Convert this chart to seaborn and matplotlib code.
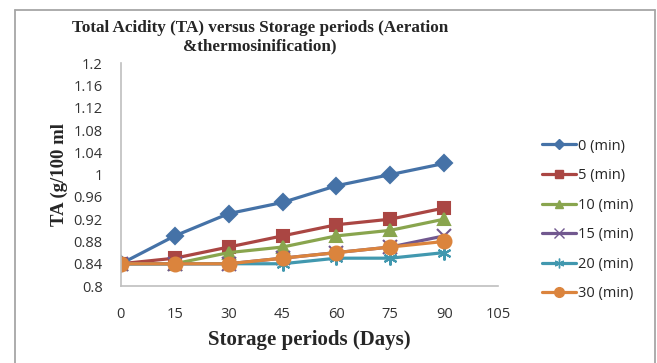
import matplotlib
matplotlib.use("Agg")
import matplotlib.pyplot as plt
import seaborn as sns
import pandas as pd
from matplotlib.lines import Line2D

days = [0, 15, 30, 45, 60, 75, 90]
series_names = ["0 (min)", "5 (min)", "10 (min)", "15 (min)", "20 (min)", "30 (min)"]
ta_0 = [0.84, 0.89, 0.93, 0.95, 0.98, 1.00, 1.02]
ta_5 = [0.84, 0.85, 0.87, 0.89, 0.91, 0.92, 0.94]
ta_10 = [0.84, 0.84, 0.86, 0.87, 0.89, 0.90, 0.92]
ta_15 = [0.84, 0.84, 0.84, 0.85, 0.86, 0.87, 0.89]
ta_20 = [0.84, 0.84, 0.84, 0.84, 0.85, 0.85, 0.86]
ta_30 = [0.84, 0.84, 0.84, 0.85, 0.86, 0.87, 0.88]
x_ticks = [0, 15, 30, 45, 60, 75, 90, 105]
y_ticks = [0.8, 0.84, 0.88, 0.92, 0.96, 1.0, 1.04, 1.08, 1.12, 1.16, 1.2]
y_tick_labels = ["0.8", "0.84", "0.88", "0.92", "0.96", "1", "1.04", "1.08", "1.12", "1.16", "1.2"]

rows = []
for name, vals in zip(series_names, [ta_0, ta_5, ta_10, ta_15, ta_20, ta_30]):
    for d, v in zip(days, vals):
        rows.append({"Days": d, "TA": v, "Treatment": name})
df = pd.DataFrame(rows)

sns.set_theme(style="white")
plt.rcParams["font.family"] = ["Open Sans", "DejaVu Sans"]

colors = ["#4572A7", "#AA4643", "#89A54E", "#71588F", "#4198AF", "#DB843D"]
markers = ["D", "s", "^", "x", (6, 2, 0), "o"]
msizes = [8, 9, 9, 10, 10, 10]

fig = plt.figure(figsize=(6.57, 3.63), dpi=100)
ax = fig.add_axes([0.184, 0.212, 0.574, 0.614])

for name, c, m, ms in zip(series_names, colors, markers, msizes):
    sub = df[df["Treatment"] == name]
    sns.lineplot(data=sub, x="Days", y="TA", color=c, marker=m, markersize=ms,
                 markeredgecolor=c, markerfacecolor=c, markeredgewidth=1.5,
                 linewidth=2.3, ax=ax, legend=False)

ax.set_xlim(0, 105)
ax.set_ylim(0.8, 1.2)
ax.set_xticks(x_ticks)
ax.set_xticklabels([str(t) for t in x_ticks], fontsize=10.5, color="#333333")
ax.set_yticks(y_ticks)
ax.set_yticklabels(y_tick_labels, fontsize=10.5, color="#333333")
ax.tick_params(axis="x", length=0, pad=15)
ax.tick_params(axis="y", length=0, pad=13)
for s in ["top", "right"]:
    ax.spines[s].set_visible(False)
for s in ["left", "bottom"]:
    ax.spines[s].set_color("#BFBFBF")
    ax.spines[s].set_linewidth(1.2)

ax.set_xlabel("Storage periods (Days)", fontsize=15, fontweight="bold",
              family="Liberation Serif", labelpad=6)
ax.set_ylabel("TA (g/100 ml", fontsize=13.5, fontweight="bold",
              family="Liberation Serif", labelpad=4)

fig.text(0.396, 0.898, "Total Acidity (TA) versus Storage periods (Aeration\n&thermosinification)",
         ha="center", va="center", fontsize=12.3, fontweight="bold",
         family="Liberation Serif", linespacing=1.25)

handles = [Line2D([0], [0], color=c, marker=m, markersize=ms * 0.7, linewidth=2.3,
                  markerfacecolor=c, markeredgecolor=c)
           for c, m, ms in zip(colors, markers, msizes)]
leg = fig.legend(handles, series_names, loc="center left", bbox_to_anchor=(0.805, 0.394),
                 frameon=False, fontsize=10.5, handlelength=2.3, labelspacing=1.0,
                 handletextpad=0.2)

frame_color = "#A6A6A6"
fig.add_artist(Line2D([15 / 657, 15 / 657], [0, 1 - 10 / 363], transform=fig.transFigure,
                      color=frame_color, linewidth=1.3))
fig.add_artist(Line2D([15 / 657, 655 / 657], [1 - 10 / 363, 1 - 10 / 363], transform=fig.transFigure,
                      color=frame_color, linewidth=1.3))
fig.add_artist(Line2D([655 / 657, 655 / 657], [0, 1 - 10 / 363], transform=fig.transFigure,
                      color=frame_color, linewidth=1.3))

fig.savefig("out.png", dpi=100)
